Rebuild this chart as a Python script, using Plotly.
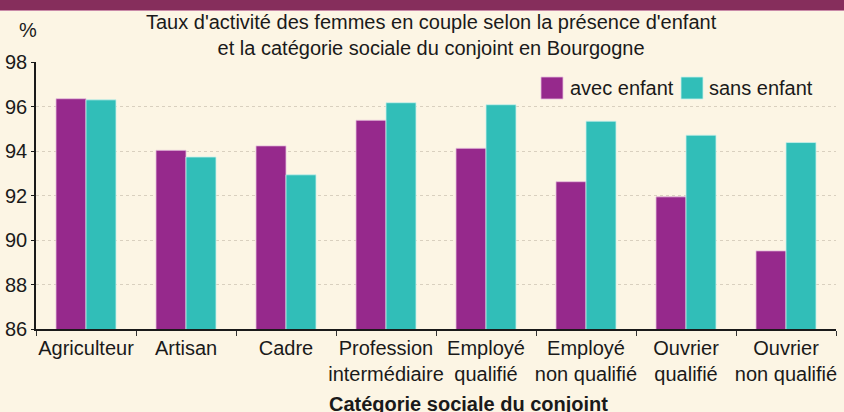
import plotly.graph_objects as go

categories = ["Agriculteur", "Artisan", "Cadre", "Profession<br>intermédiaire",
              "Employé<br>qualifié", "Employé<br>non qualifié", "Ouvrier<br>qualifié",
              "Ouvrier<br>non qualifié"]
avec_enfant = [96.35, 94.03, 94.23, 95.38, 94.12, 92.62, 91.94, 89.51]
sans_enfant = [96.30, 93.73, 92.93, 96.17, 96.08, 95.34, 94.71, 94.38]
y_ticks = [86, 88, 90, 92, 94, 96, 98]
series_names = ["avec enfant", "sans enfant"]

PURPLE = "#96298C"
TEAL = "#31BEB8"
BG = "#FCF5E4"
FONT = "Liberation Sans, Arial, sans-serif"

fig = go.Figure()
fig.add_trace(go.Bar(name=series_names[0], x=categories, y=avec_enfant,
                     marker=dict(color=PURPLE, line=dict(color="rgba(230,190,220,0.8)", width=1))))
fig.add_trace(go.Bar(name=series_names[1], x=categories, y=sans_enfant,
                     marker=dict(color=TEAL, line=dict(color="rgba(200,240,235,0.8)", width=1))))

fig.update_layout(
    width=844, height=412,
    margin=dict(l=36, r=8, t=62, b=83, autoexpand=False),
    paper_bgcolor=BG, plot_bgcolor=BG,
    font=dict(family=FONT, size=20, color="#1a1a1a"),
    barmode="group", bargap=0.4, bargroupgap=0,
    showlegend=False,
)
fig.update_xaxes(showline=True, linecolor="#1a1a1a", linewidth=1.5,
                 ticks="outside", tickson="boundaries", ticklen=5, tickcolor="#333",
                 showgrid=False, tickfont=dict(size=20), tickangle=0, automargin=False)
fig.update_yaxes(range=[86, 98], tickvals=y_ticks, showline=True, linecolor="#1a1a1a",
                 linewidth=1.5, ticks="outside", ticklen=3, tickcolor="#1a1a1a",
                 showgrid=True, gridcolor="#d9d0bf", griddash="dot", gridwidth=1,
                 zeroline=False, tickfont=dict(size=20), automargin=False)

# top band
fig.add_shape(type="rect", xref="paper", yref="paper", x0=-0.1, x1=1.1,
              ysizemode="pixel", yanchor=1, y0=52, y1=70,
              fillcolor="#862E5C", line=dict(width=0), layer="above")
fig.add_shape(type="line", xref="paper", yref="paper", x0=-0.1, x1=1.1,
              ysizemode="pixel", yanchor=1, y0=51.5, y1=51.5,
              line=dict(color="#C98AA8", width=1))

# legend (drawn manually to get large swatches)
fig.add_shape(type="rect", xref="paper", yref="paper", x0=0.63125, x1=0.65875,
              y0=0.8614, y1=0.9438, fillcolor=PURPLE,
              line=dict(color="rgba(230,190,220,0.8)", width=1))
fig.add_shape(type="rect", xref="paper", yref="paper", x0=0.80625, x1=0.83375,
              y0=0.8614, y1=0.9438, fillcolor=TEAL,
              line=dict(color="rgba(200,240,235,0.8)", width=1))
fig.add_annotation(text=series_names[0], xref="paper", yref="paper", x=0.6655, y=0.9026,
                   xanchor="left", yanchor="middle", showarrow=False, font=dict(size=20))
fig.add_annotation(text=series_names[1], xref="paper", yref="paper", x=0.8385, y=0.9026,
                   xanchor="left", yanchor="middle", showarrow=False, font=dict(size=20))

# title
fig.add_annotation(text="Taux d'activité des femmes en couple selon la présence d'enfant<br>et la catégorie sociale du conjoint en Bourgogne",
                   xref="paper", yref="paper", x=0.494, y=1.100, xanchor="center",
                   yanchor="middle", showarrow=False, font=dict(size=20))

fig.add_annotation(text="%", xref="paper", yref="paper", x=-0.01, y=1.118,
                   xanchor="center", yanchor="middle", showarrow=False, font=dict(size=20))
fig.add_annotation(text="<b>Catégorie sociale du conjoint</b>", xref="paper", yref="paper",
                   x=0.54, y=-0.282, xanchor="center", yanchor="middle",
                   showarrow=False, font=dict(size=20))

fig.write_html("out.html", config={"displayModeBar": False},
               post_script="document.body.style.margin='0';document.body.style.background='#FCF5E4';")
